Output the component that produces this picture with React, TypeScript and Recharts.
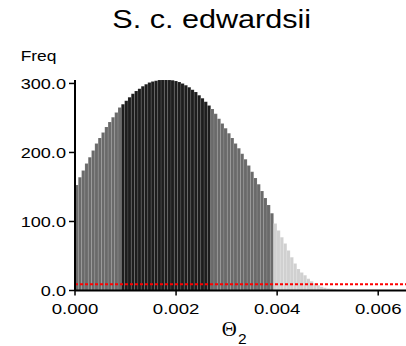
import React from 'react';
import { ComposedChart, Bar, Cell, XAxis, YAxis, ReferenceLine } from 'recharts';

const title = 'S. c. edwardsii';
const yLabel = 'Freq';
const xLabelMain = 'Θ';
const xLabelSub = '2';

// histogram: 100 bins over [0, 0.00655]
const binWidth = 0.0000655;
const freq = [
  153, 164, 174, 184, 193, 203, 213, 221, 229, 237,
  244, 251, 258, 265, 270, 275, 280, 285, 289, 292.5,
  296, 299, 301.5, 303, 304, 305, 305.5, 305.5, 305, 304.5,
  303.5, 302, 300, 297.5, 294.5, 291, 287.5, 283, 278.5, 273.5,
  268, 263, 256, 249, 242, 235, 228, 221, 213, 206,
  198, 190, 181, 172, 163, 154, 144, 134, 124, 112,
  97, 87, 77, 68, 58, 48, 39, 31, 26, 22,
  17, 13.5, 10.5, 7.5, 5.5, 4, 3, 2.5, 2, 1.6,
  1.3, 1.1, 0.9, 0.8, 0.7, 0.6, 0.5, 0.5, 0.4, 0.4,
  0.3, 0.3, 0.3, 0.2, 0.2, 0.2, 0.2, 0.1, 0.1, 0.1,
];
const hpd50 = [0.00094, 0.00268];
const hpd95 = [0, 0.00393];
const priorLevel = 9;
const xTicks = [0, 0.002, 0.004, 0.006];
const yTicks = [0, 100, 200, 300];
const xDomain = [0, 0.00655];
const yDomain = [0, 305];

const COLORS = { inner: '#1d1d1d', mid: '#6a6a6a', outer: '#d0d0d0' };

const data = freq.map((f, i) => ({ x: (i + 0.5) * binWidth, f }));

const colorOf = (x: number) => {
  if (x >= hpd50[0] && x <= hpd50[1]) return COLORS.inner;
  if (x >= hpd95[0] && x <= hpd95[1]) return COLORS.mid;
  return COLORS.outer;
};

const FONT = "'Liberation Sans', Arial, Helvetica, sans-serif";

const XTick = (props: any) => {
  const { x, y, payload } = props;
  return (
    <text
      transform={`translate(${x},${y + 16}) scale(1.2,1)`}
      textAnchor="middle"
      fontFamily={FONT}
      fontSize={15.5}
      fill="#000"
    >
      {Number(payload.value).toFixed(3)}
    </text>
  );
};

const YTick = (props: any) => {
  const { x, y, payload } = props;
  return (
    <text
      transform={`translate(${x},${y + 5.8}) scale(1.17,1)`}
      textAnchor="end"
      fontFamily={FONT}
      fontSize={15.5}
      fill="#000"
    >
      {Number(payload.value).toFixed(1)}
    </text>
  );
};

export default function App() {
  return (
    <div style={{ position: 'absolute', left: 0, top: 0, width: 406, height: 346, background: '#fff' }}>
      <ComposedChart
        width={406}
        height={346}
        data={data}
        margin={{ top: 80, right: 0, bottom: 0, left: 0 }}
        barCategoryGap={0}
        barGap={0}
      >
        <XAxis xAxisId="cat" dataKey="x" type="category" hide />
        <XAxis
          xAxisId={0}
          dataKey="x"
          type="number"
          domain={xDomain}
          allowDataOverflow
          ticks={xTicks}
          interval={0}
          height={55.5}
          tickSize={5}
          tickMargin={2}
          axisLine={{ stroke: '#000', strokeWidth: 2 }}
          tickLine={{ stroke: '#000', strokeWidth: 1.5 }}
          tick={<XTick />}
        />
        <YAxis
          type="number"
          domain={yDomain}
          allowDataOverflow
          ticks={yTicks}
          interval={0}
          width={75}
          tickSize={6}
          tickMargin={3}
          axisLine={{ stroke: '#000', strokeWidth: 2 }}
          tickLine={{ stroke: '#000', strokeWidth: 1.5 }}
          tick={<YTick />}
        />
        <Bar
          xAxisId="cat"
          dataKey="f"
          barSize={3.3}
          isAnimationActive={false}
          stroke="#ffffff"
          strokeOpacity={0.18}
          strokeWidth={0.5}
        >
          {data.map((d, i) => (
            <Cell key={i} fill={colorOf(d.x)} />
          ))}
        </Bar>
        <ReferenceLine
          y={priorLevel}
          stroke="#ff0000"
          strokeWidth={2}
          strokeDasharray="3 2"
        />
      </ComposedChart>
      <svg
        width={406}
        height={346}
        style={{ position: 'absolute', left: 0, top: 0, pointerEvents: 'none' }}
      >
        <text
          transform="translate(211.7,28.3) scale(1.2,1)"
          textAnchor="middle"
          fontFamily={FONT}
          fontSize={25.5}
          fill="#000"
        >
          {title}
        </text>
        <text
          transform="translate(20.7,61) scale(1.2,1)"
          textAnchor="start"
          fontFamily={FONT}
          fontSize={14.5}
          fill="#000"
        >
          {yLabel}
        </text>
        <text
          transform="translate(221.7,336) scale(1.04,1)"
          textAnchor="start"
          fontFamily="'Liberation Serif', 'DejaVu Serif', serif"
          fontSize={20}
          fill="#000"
        >
          {xLabelMain}
        </text>
        <text
          transform="translate(238,343.5)"
          textAnchor="start"
          fontFamily={FONT}
          fontSize={15.5}
          fill="#000"
        >
          {xLabelSub}
        </text>
      </svg>
    </div>
  );
}
